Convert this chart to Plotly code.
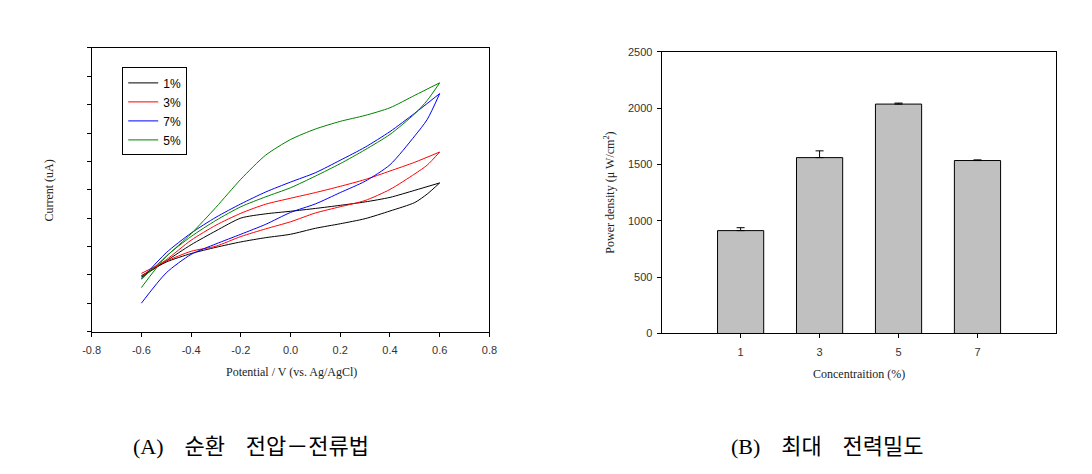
import plotly.graph_objects as go

# ---------------- (A) cyclic voltammetry ----------------
potential_fwd = [-0.6, -0.5, -0.4, -0.3, -0.2, -0.1, 0.0, 0.1, 0.2, 0.3, 0.4, 0.5, 0.6]
potential_rev = [0.6, 0.55, 0.5, 0.4, 0.3, 0.2, 0.1, 0.0, -0.1, -0.2, -0.3, -0.4, -0.5, -0.6]

cv_labels = ["1%", "3%", "7%", "5%"]
cv_colors = ["#000000", "#ff0000", "#0000ff", "#008000"]

current_1_fwd = [1.92, 2.49, 3.06, 3.55, 4.00, 4.15, 4.24, 4.34, 4.45, 4.57, 4.73, 4.98, 5.24]
current_1_rev = [5.24, 4.85, 4.55, 4.25, 3.98, 3.80, 3.64, 3.43, 3.31, 3.16, 2.97, 2.75, 2.45, 1.97]
current_3_fwd = [1.95, 2.53, 3.22, 3.75, 4.17, 4.49, 4.70, 4.90, 5.12, 5.36, 5.66, 5.97, 6.33]
current_3_rev = [6.33, 5.87, 5.56, 5.01, 4.62, 4.40, 4.18, 3.87, 3.62, 3.35, 3.01, 2.83, 2.48, 2.05]
current_7_fwd = [1.85, 2.78, 3.47, 4.03, 4.50, 4.92, 5.27, 5.60, 6.04, 6.50, 7.05, 7.70, 8.39]
current_7_rev = [8.39, 7.48, 6.90, 5.88, 5.30, 4.90, 4.50, 4.20, 3.78, 3.43, 3.09, 2.72, 2.07, 1.00]
current_5_fwd = [1.85, 2.65, 3.45, 4.38, 5.37, 6.22, 6.77, 7.14, 7.41, 7.62, 7.89, 8.33, 8.77]
current_5_rev = [8.77, 8.15, 7.68, 6.95, 6.41, 5.92, 5.48, 5.07, 4.75, 4.40, 3.92, 3.35, 2.65, 1.55]

cv_series = [
    (current_1_fwd, current_1_rev),
    (current_3_fwd, current_3_rev),
    (current_7_fwd, current_7_rev),
    (current_5_fwd, current_5_rev),
]

x_tickvals = [-0.8, -0.6, -0.4, -0.2, 0.0, 0.2, 0.4, 0.6, 0.8]
x_ticktext = ["-0.8", "-0.6", "-0.4", "-0.2", "0.0", "0.2", "0.4", "0.6", "0.8"]
y_tickvals = [0, 1, 2, 3, 4, 5, 6, 7, 8, 9, 10]

# ---------------- (B) maximum power density ----------------
concentration = [1, 3, 5, 7]
concentration_labels = ["1", "3", "5", "7"]
power_density = [913, 1561, 2036, 1535]
power_error = [26, 60, 9, 6]

fig = go.Figure()

for label, color, (fwd, rev) in zip(cv_labels, cv_colors, cv_series):
    # forward (anodic) sweep
    fig.add_trace(go.Scatter(
        x=potential_fwd, y=fwd,
        mode="lines", name=label, legendgroup=label,
        line=dict(color=color, width=1, shape="spline", smoothing=0.7),
        xaxis="x", yaxis="y",
    ))
    # reverse sweep
    fig.add_trace(go.Scatter(
        x=potential_rev, y=rev,
        mode="lines", name=label, legendgroup=label, showlegend=False,
        line=dict(color=color, width=1, shape="spline", smoothing=0.7),
        xaxis="x", yaxis="y",
    ))

fig.add_trace(go.Bar(
    x=concentration, y=power_density,
    width=1.17,
    marker=dict(color="#c0c0c0", line=dict(color="#000000", width=1)),
    error_y=dict(type="data", array=power_error, arrayminus=[0] * len(power_error),
                 symmetric=False, color="#000000", thickness=1, width=4),
    showlegend=False,
    xaxis="x2", yaxis="y2",
))

W, H = 1092, 474
tickfont = dict(family="Liberation Sans, Arial, sans-serif", size=11, color="#333333")
titlefont = dict(family="Liberation Serif, Times New Roman, serif", size=12, color="#222222")
axis_common = dict(showline=True, linecolor="#000000", linewidth=1, mirror=True,
                   ticks="outside", ticklen=4, tickcolor="#000000", tickwidth=1,
                   showgrid=False, zeroline=False, tickfont=tickfont)

fig.update_layout(
    width=W, height=H,
    margin=dict(l=0, r=0, t=0, b=0),
    paper_bgcolor="white", plot_bgcolor="white",
    xaxis=dict(domain=[84 / W, 488 / W], range=[-0.8, 0.8],
               tickvals=x_tickvals, ticktext=x_ticktext, anchor="y",
               ticklabelstandoff=4, **axis_common),
    yaxis=dict(domain=[1 - 334 / H, 1 - 43 / H], range=[0, 10],
               tickvals=y_tickvals, showticklabels=False, anchor="x", **axis_common),
    xaxis2=dict(domain=[663 / W, 1064 / W], range=[-1, 9],
                tickvals=concentration, ticktext=concentration_labels, anchor="y2",
                ticklabelstandoff=4, **axis_common),
    yaxis2=dict(domain=[1 - 336 / H, 1 - 47 / H], range=[0, 2500], dtick=500,
                anchor="x2", ticklabelstandoff=2, **axis_common),
    legend=dict(x=115 / W, y=1 - 63 / H, xanchor="left", yanchor="top",
                bordercolor="#000000", borderwidth=1, bgcolor="white",
                font=dict(family="Liberation Sans, Arial, sans-serif", size=12, color="#000000"),
                tracegroupgap=0, itemwidth=30),
    showlegend=True,
)

capfont = dict(family="Liberation Serif, Noto Sans CJK KR", size=22, color="#000000")
gap = "\u2002\u2009 "
annotations = [
    dict(text="Current (uA)", x=41 / W, y=1 - 189 / H, textangle=-90, font=titlefont),
    dict(text="Potential / V (vs. Ag/AgCl)", x=287 / W, y=1 - 376 / H, font=titlefont),
    dict(text="Power density (\u03bc W/cm<sup>2</sup>)", x=610 / W, y=1 - 192 / H,
         textangle=-90, font=titlefont),
    dict(text="Concentraition (%)", x=863 / W, y=1 - 378 / H, font=titlefont),
    dict(text="(A)" + gap + "순환" + gap + "전압\uff0d전류법", x=246 / W, y=1 - 452 / H, font=capfont),
    dict(text="(B)" + gap + "최대" + gap + "전력밀도", x=831 / W, y=1 - 452 / H, font=capfont),
]
for a in annotations:
    a.update(xref="paper", yref="paper", showarrow=False, xanchor="center", yanchor="middle")
fig.update_layout(annotations=annotations)

fig.write_html("out.html")
